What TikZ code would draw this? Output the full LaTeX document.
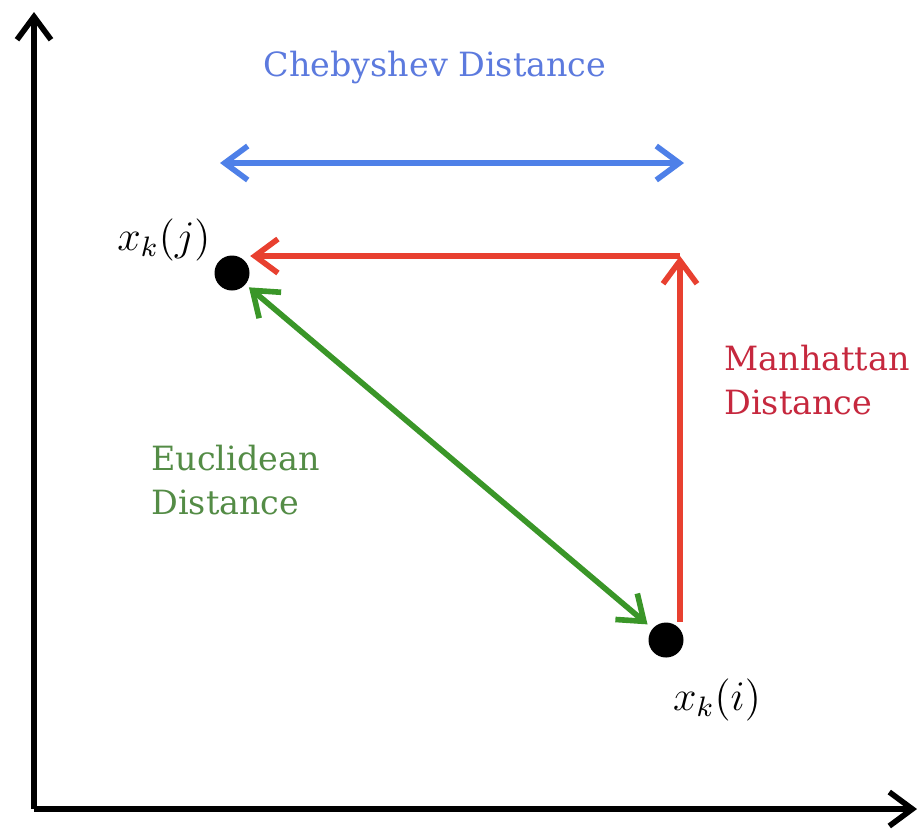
\documentclass[tikz,border=0pt]{standalone}
\usepackage{fontspec}
\setmainfont{DejaVu Serif}
\usepackage{tikz}
\usetikzlibrary{arrows.meta, positioning}

\definecolor{chebblue}{RGB}{78,128,232}
\definecolor{chebtext}{RGB}{92,122,222}
\definecolor{manhred}{RGB}{232,64,48}
\definecolor{manhtext}{RGB}{198,40,62}
\definecolor{euclgreen}{RGB}{58,150,40}
\definecolor{eucltext}{RGB}{84,140,70}

\tikzset{
  barb/.style={-{Straight Barb[length=2.3mm, width=3.4mm]}},
  axis/.style={barb, line width=1.6pt, black},
  dot/.style={circle, fill=black, inner sep=0pt, minimum size=3.5mm},
  dist/.style={line width=1.6pt, {Straight Barb[length=2.3mm, width=3.4mm]}-{Straight Barb[length=2.3mm, width=3.4mm]}},
  lbl/.style={font=\fontsize{9.5}{12.5}\selectfont, align=left},
  mlbl/.style={font=\fontsize{12}{14}\selectfont}
}

\begin{document}
\begin{tikzpicture}

		\useasboundingbox (0,0) rectangle (9.19,8.30);

		\coordinate (o) at (0.34,0.21);
		\coordinate (ytop) at (0.34,8.18);
		\coordinate (xend) at (9.17,0.21);

		\draw[axis] (o) -- (ytop);
		\draw[axis] (o) -- (xend);

		\node[dot] (xj) at (2.32,5.57) {};
		\node[dot] (xi) at (6.66,1.90) {};
		\node[mlbl] (xjlabel) at (1.64,5.90) {$x_k(j)$};
		\node[mlbl] (xilabel) at (7.17,1.30) {$x_k(i)$};

		% Chebyshev
		\coordinate (cl) at (2.20,6.67);
		\coordinate (cr) at (6.84,6.67);
		\draw[dist, chebblue] (cl) -- (cr);
		\node[lbl, text=chebtext] (cheb) at (4.35,7.62) {Chebyshev Distance};

		% Manhattan
		\coordinate (corner) at (6.80,5.74);
		\draw[barb, line width=1.6pt, manhred] (xi.north -| corner) -- (corner);
		\draw[barb, line width=1.6pt, manhred] (corner) -- (corner -| xj.east);
		\node[lbl, text=manhtext, anchor=west] (manh) at (7.12,4.50) {Manhattan\\Distance};

		% Euclidean
		\draw[dist, euclgreen, shorten <=0.4mm, shorten >=0.6mm] (xj) -- (xi);
		\node[lbl, text=eucltext, anchor=west] (eucl) at (1.39,3.50) {Euclidean\\Distance};

	\end{tikzpicture}
\end{document}
